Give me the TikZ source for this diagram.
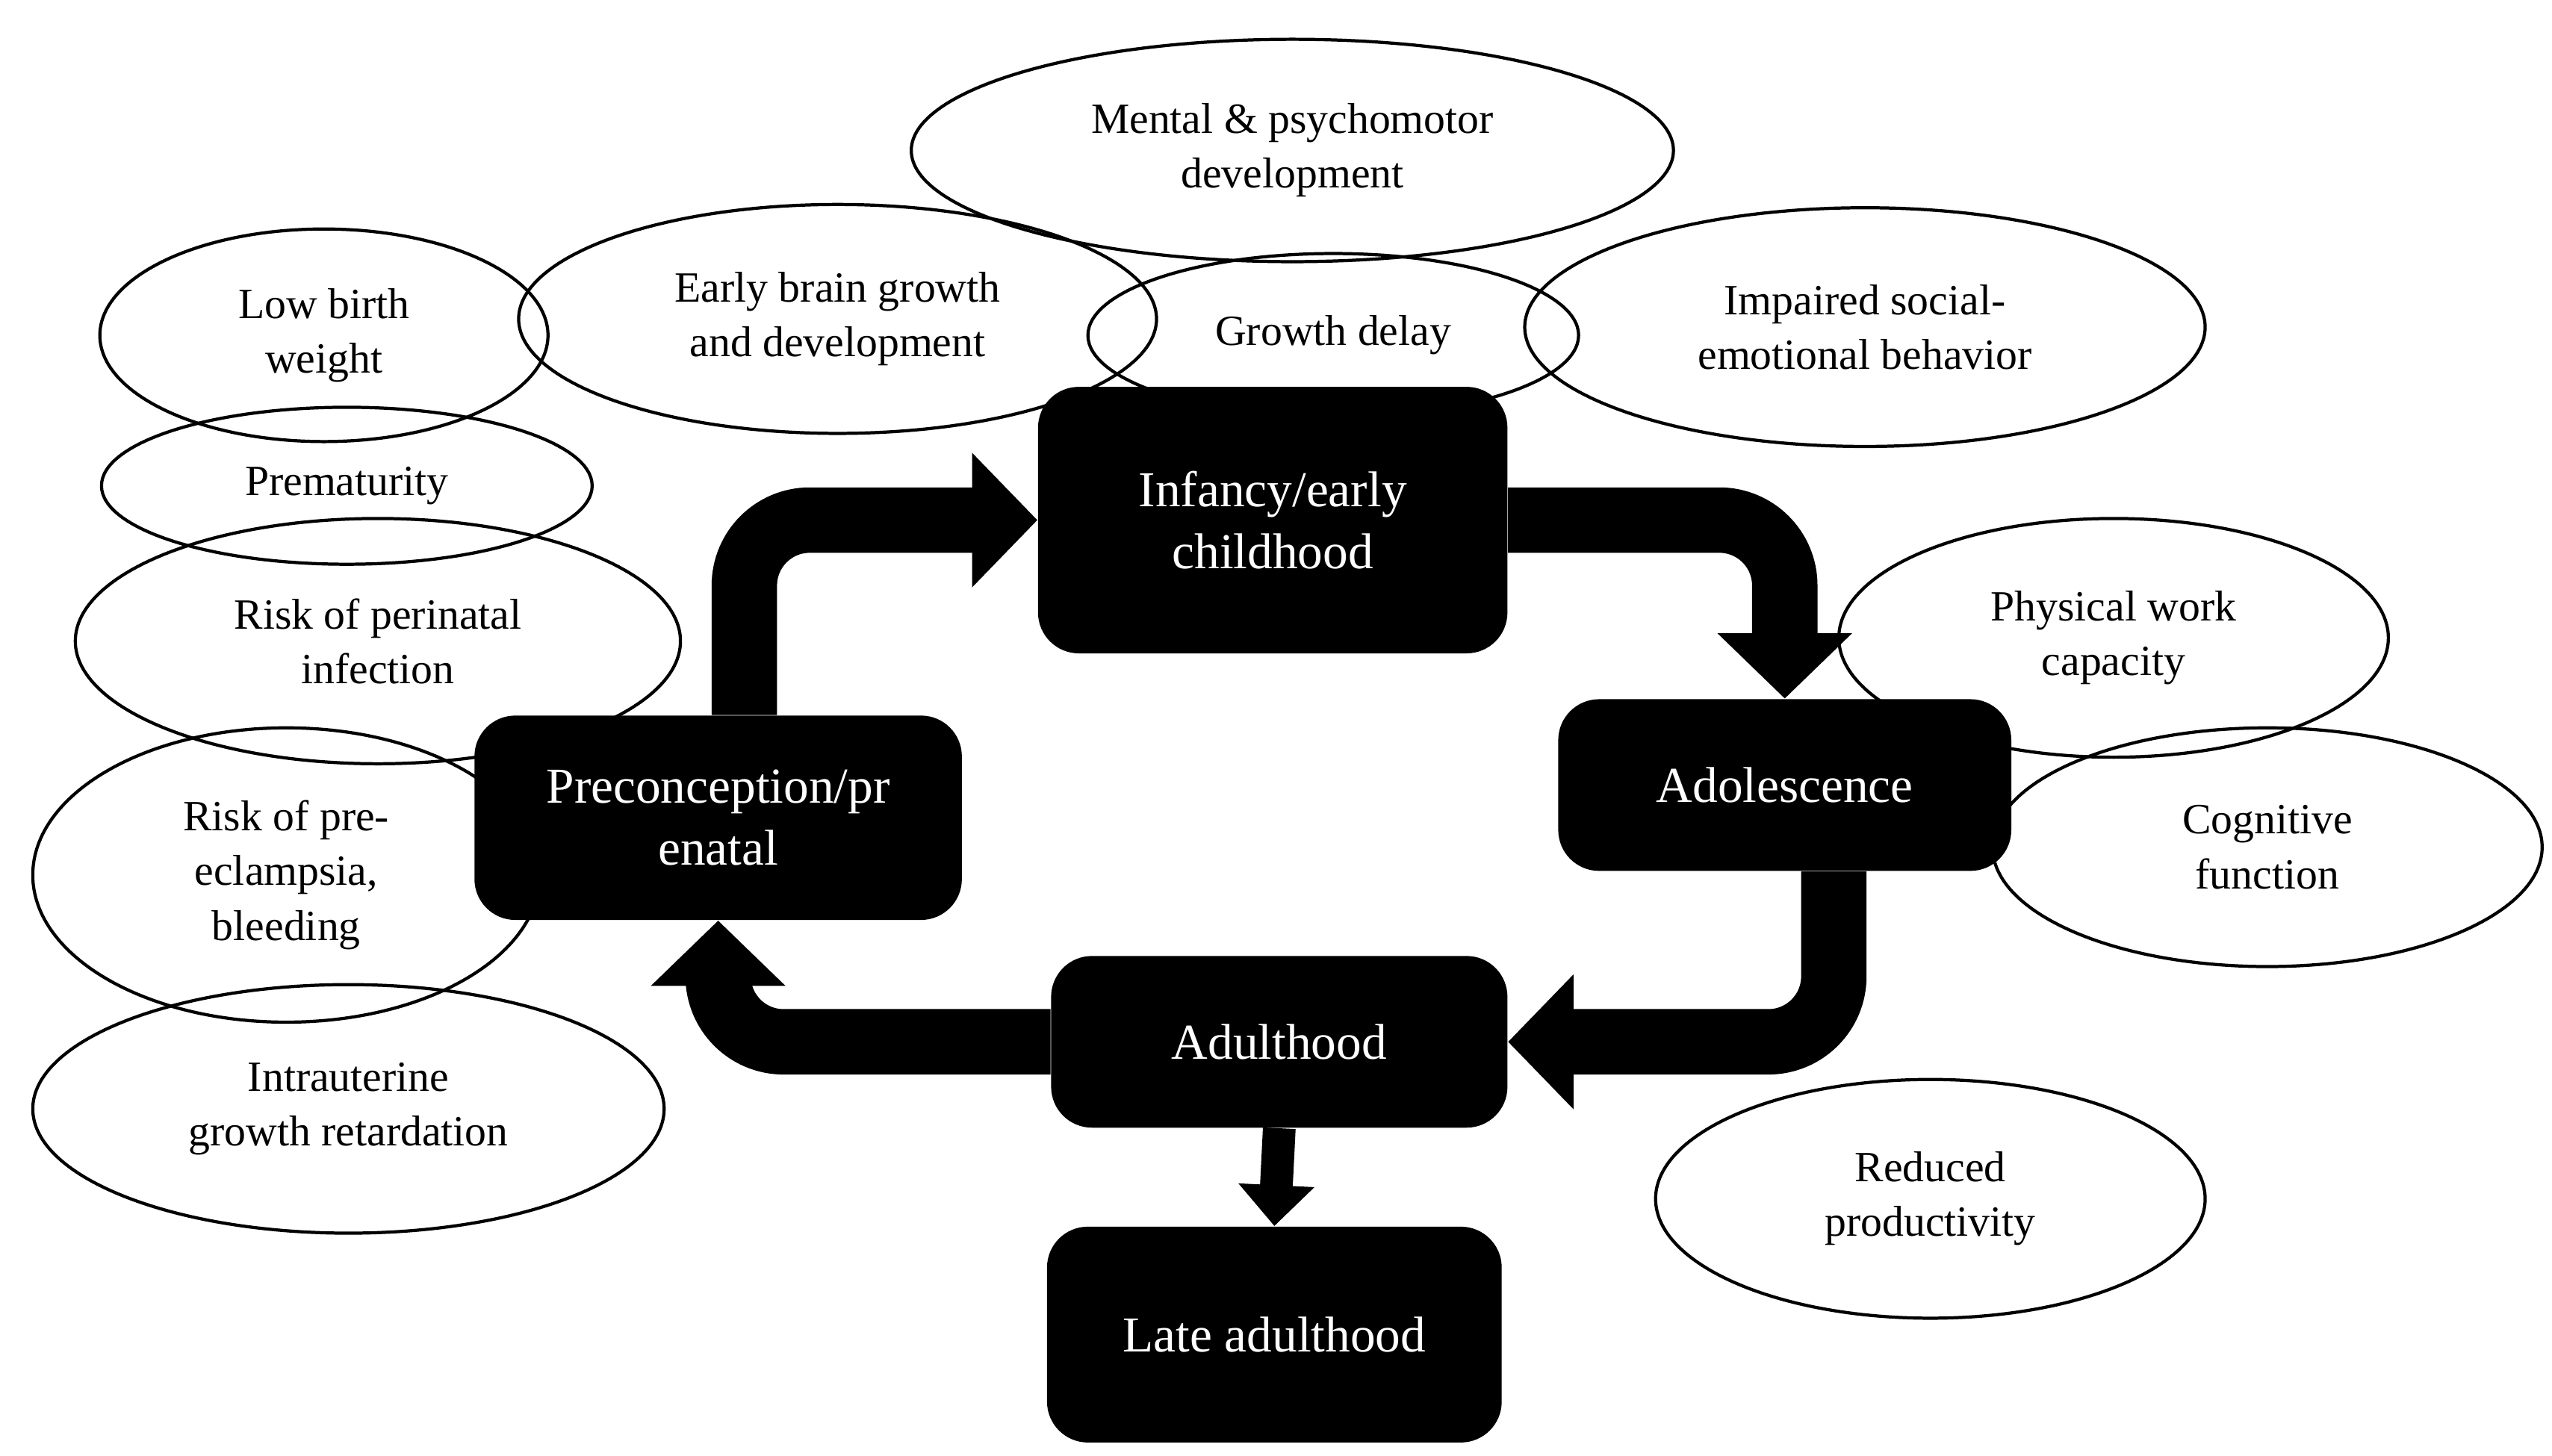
\documentclass[tikz,border=0pt]{standalone}
\usepackage{fontspec}
\setmainfont{Liberation Serif}
\usetikzlibrary{shapes.geometric,arrows.meta}
\begin{document}
\begin{tikzpicture}[x=0.02cm,y=-0.02cm,
  ell/.style={draw,ellipse,line width=1.1pt,inner sep=0pt,align=center,font=\fontsize{15}{19}\selectfont},
  box/.style={fill=black,text=white,rounded corners=0.5cm,inner sep=0pt,align=center,font=\fontsize{17.5}{21.5}\selectfont},
  arr/.style={line width=0.8cm,rounded corners=0.8cm,-{Triangle[width=1.6cm,length=0.8cm]}}]
\useasboundingbox (0,0) rectangle (1560,890);
\node[ell,minimum width=9.32cm,minimum height=2.72cm] (e1) at (790,92) {Mental \& psychomotor\\development};
\node[ell,minimum width=7.8cm,minimum height=2.8cm] (e2) at (512,195) {Early brain growth\\and development};
\node[ell,minimum width=5.48cm,minimum height=2.6cm] (e3) at (198,205) {Low birth\\weight};
\node[ell,minimum width=6.0cm,minimum height=2.0cm] (e4) at (815,205) {Growth delay};
\node[ell,minimum width=8.32cm,minimum height=2.92cm] (e5) at (1140,200) {Impaired social-\\emotional behavior};
\node[ell,minimum width=6.0cm,minimum height=1.92cm] (e6) at (212,297) {Prematurity};
\node[ell,minimum width=7.4cm,minimum height=3.0cm] (e7) at (231,392) {Risk of perinatal\\infection};
\node[ell,minimum width=6.2cm,minimum height=3.6cm] (e8) at (175,535) {Risk of pre-\\eclampsia,\\bleeding};
\node[ell,minimum width=7.72cm,minimum height=3.04cm] (e9) at (213,678) {Intrauterine\\growth retardation};
\node[ell,minimum width=6.72cm,minimum height=2.92cm] (e10) at (1292,390) {Physical work\\capacity};
\node[ell,minimum width=6.72cm,minimum height=2.92cm] (e11) at (1386,518) {Cognitive\\function};
\node[ell,minimum width=6.72cm,minimum height=2.92cm] (e12) at (1180,733) {Reduced\\productivity};
\node[box,minimum width=5.74cm,minimum height=3.26cm] (inf) at (778,318) {Infancy/early\\childhood};
\node[box,minimum width=5.96cm,minimum height=2.5cm] (pre) at (439,500) {Preconception/pr\\enatal};
\node[box,minimum width=5.54cm,minimum height=2.1cm] (ado) at (1091,480) {Adolescence};
\node[box,minimum width=5.58cm,minimum height=2.1cm] (adu) at (782,637) {Adulthood};
\node[box,minimum width=5.56cm,minimum height=2.64cm] (late) at (779,816) {Late adulthood};
\draw[arr] ([xshift=0.32cm]pre.north) |- (inf.west);
\draw[arr] (inf.east) -| (ado.north);
\draw[arr] ([xshift=0.6cm]ado.south) |- (adu.east);
\draw[arr] (adu.west) -| (pre.south);
\draw[line width=0.4cm,-{Triangle[width=0.9cm,length=0.5cm]}] (adu.south) -- (late.north);
\end{tikzpicture}
\end{document}
